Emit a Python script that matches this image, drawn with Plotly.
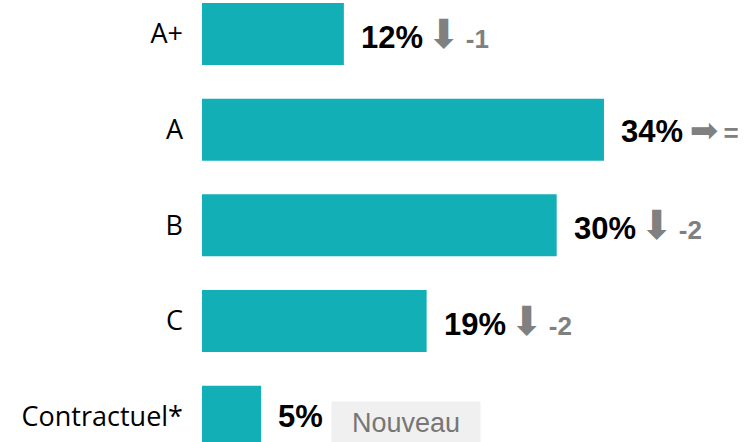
import plotly.graph_objects as go

categories = ["A+", "A", "B", "C", "Contractuel*"]
values = [12, 34, 30, 19, 5]
value_labels = ["12%", "34%", "30%", "19%", "5%"]
trend_arrows = ["⬇", "➡", "⬇", "⬇", ""]
deltas = ["-1", "=", "-2", "-2", ""]
new_label = "Nouveau"

teal = "#13AFB7"
grey = "#808080"

fig = go.Figure(go.Bar(
    x=values, y=categories, orientation="h",
    marker=dict(color=teal, line=dict(width=0)),
    hoverinfo="skip",
))

annotations = []
for cat, v, lab, arr, d in zip(categories, values, value_labels, trend_arrows, deltas):
    txt = f"<b>{lab}</b>"
    if arr:
        size = 40 if arr == "⬇" else 34
        lead = "\u200a" if arr == "⬇" else "\u2009"
        txt += (f"<span style='font-family:DejaVu Sans;font-size:{size}px;color:{grey}'>{lead}{arr}</span>"
                f"<span style='font-size:26px;color:{grey}'><b>\u2009{d}</b></span>")
    annotations.append(dict(
        x=v, y=cat, xref="x", yref="y", xanchor="left", yanchor="middle",
        xshift=15, showarrow=False, text=txt,
        font=dict(family="Liberation Sans, Arial", size=31, color="#000000"),
    ))

# "Nouveau" tag next to the last bar
annotations.append(dict(
    x=values[-1], y=categories[-1], xref="x", yref="y", xanchor="left", yanchor="middle",
    xshift=70, yshift=-6, showarrow=False, text=new_label,
    font=dict(family="Liberation Sans, Arial", size=27, color="#767676"),
    bgcolor="#F0F0F0", width=148, height=42, align="center", valign="middle", borderpad=0,
))

fig.update_layout(
    width=754, height=442,
    margin=dict(l=202, r=0, t=0, b=0),
    paper_bgcolor="white", plot_bgcolor="white",
    bargap=0.352,
    showlegend=False,
    annotations=annotations,
    xaxis=dict(range=[0, 46.69], visible=False, fixedrange=True),
    yaxis=dict(
        type="category", categoryorder="array", categoryarray=categories,
        range=[4.2647, -0.3554], showgrid=False, zeroline=False, showline=False,
        ticks="", ticklabelstandoff=18, fixedrange=True,
        tickfont=dict(family="Open Sans", size=27, color="#000000"),
    ),
)

fig.write_html("out.html", config={"displayModeBar": False},
               post_script="document.body.style.margin='0';")
